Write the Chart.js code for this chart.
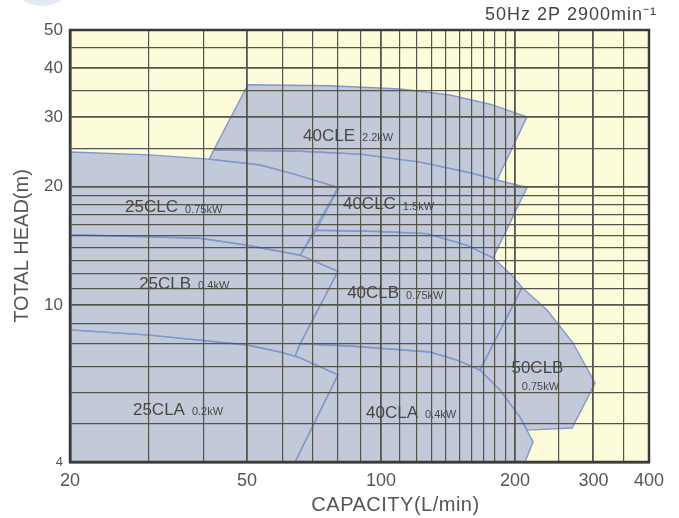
<!DOCTYPE html>
<html><head><meta charset="utf-8">
<script src="https://cdn.jsdelivr.net/npm/chart.js@4.4.1/dist/chart.umd.min.js"></script>
<style>html,body{margin:0;padding:0;background:#fff}#wrap{width:679px;height:518px}</style>
</head><body><div id="wrap"><canvas id="c" width="679" height="518"></canvas></div>
<script>
// Axis ticks (grid) and labelled ticks
const xTicks = [20,30,40,50,60,70,80,90,100,110,120,130,140,150,160,170,180,190,200,250,300,350,400];
const xLabels = [20,50,100,200,300,400];
const yTicks = [4,5,6,7,8,9,10,11,12,13,14,15,16,17,18,19,20,25,30,35,40,45,50];
const yLabels = [4,10,20,30,40,50];

// Selection ranges: [capacity L/min, total head m]
const r40CLE = [[50.2,36.3],[76.8,36.1],[110.3,35.4],[142.9,34.2],[175.7,32.4],[212.8,30.1],[182.2,20.8],[158.4,21.7],[122.3,23.1],[89.7,24.2],[65.8,24.6],[42.1,24.8]];
const r40CLC = [[42.1,24.8],[65.8,24.6],[89.7,24.2],[122.3,23.1],[158.4,21.7],[182.2,20.8],[212.8,19.9],[178.5,13.2],[156.0,14.2],[126.9,15.2],[99.5,15.4],[71.4,15.5],[80.4,19.9],[64.1,21.5],[53.5,22.7],[41.1,23.5]];
const r25CLC = [[20,24.5],[30.2,24.1],[41.1,23.5],[53.5,22.7],[64.1,21.5],[80.0,19.9],[65.8,13.4],[50,14.2],[39.2,14.8],[20,15.1]];
const r25CLB = [[20,15.1],[39.2,14.8],[50,14.2],[65.8,13.4],[80.0,12.2],[65.8,7.98],[64.1,7.43],[59.3,7.61],[50,7.93],[30.2,8.40],[20,8.66]];
const r25CLA = [[20,8.66],[30.2,8.40],[50,7.93],[59.3,7.61],[65.8,7.35],[80.0,6.66],[64.1,4],[20,4]];
const r40CLB = [[71.4,15.5],[99.5,15.4],[126.9,15.2],[156.0,14.2],[178.5,13.2],[196.9,11.9],[207.4,11.1],[166.9,6.85],[148.1,7.26],[128.8,7.61],[85.2,7.88],[65.8,7.98],[80.0,12.2],[65.8,13.4]];
const r50CLB = [[207.4,11.1],[236.0,9.73],[270.0,8.02],[302.6,6.35],[268.7,4.88],[212.8,4.82],[205.2,5.20],[185.1,6.09],[166.9,6.85]];
const r40CLA = [[65.8,7.98],[85.2,7.88],[128.8,7.61],[148.1,7.26],[166.9,6.85],[185.1,6.09],[205.2,5.20],[219.6,4.50],[210.6,4],[64.1,4],[80.0,6.66],[65.8,7.35],[64.1,7.43]];

// Model labels
const modelNames = ['40CLE','40CLC','40CLB','25CLC','25CLB','25CLA','40CLA','50CLB'];
const modelPower = ['2.2kW','1.5kW','0.75kW','0.75kW','0.4kW','0.2kW','0.4kW','0.75kW'];
const labelQ = [66.8,82.1,83.9,26.6,28.6,27.7,92.5,224.6];
const labelH = [26.9,18.0,10.7,17.7,11.3,5.42,5.33,6.93];

const FONT = "'Liberation Sans', Arial, Helvetica, sans-serif";
const regions = [r40CLE, r40CLC, r25CLC, r25CLB, r25CLA, r40CLB, r50CLB, r40CLA];
const regionNames = ['40CLE','40CLC','25CLC','25CLB','25CLA','40CLB','50CLB','40CLA'];

const datasets = regions.map((pts, i) => ({
  label: regionNames[i],
  data: pts.concat([pts[0]]).map(p => ({x: p[0], y: p[1]})),
  showLine: true,
  fill: 'shape',
  backgroundColor: '#c2cad9',
  borderColor: '#8298cd',
  borderWidth: 1.4,
  pointRadius: 0,
  tension: 0
}));

const decoPlugin = {
  id: 'deco',
  beforeDraw(chart) {
    const {ctx, chartArea: a} = chart;
    ctx.save();
    ctx.fillStyle = '#fcfcda';
    ctx.fillRect(a.left, a.top, a.width, a.height);
    ctx.fillStyle = '#e4eaf5';
    ctx.beginPath();
    ctx.ellipse(42, -22, 32, 28, 0, 0, Math.PI * 2);
    ctx.fill();
    ctx.restore();
  },
  afterDraw(chart) {
    const {ctx, chartArea: a, scales} = chart;
    ctx.save();
    ctx.strokeStyle = '#3a3a3a';
    ctx.lineWidth = 2.5;
    ctx.strokeRect(a.left, a.top, a.width, a.height);
    // model labels
    ctx.fillStyle = '#474747';
    ctx.textBaseline = 'middle';
    for (let i = 0; i < modelNames.length; i++) {
      const px = scales.x.getPixelForValue(labelQ[i]);
      const py = scales.y.getPixelForValue(labelH[i]);
      if (modelNames[i] === '50CLB') {
        ctx.textAlign = 'center';
        ctx.font = '17px ' + FONT;
        ctx.fillText(modelNames[i], px, py);
        ctx.font = '11px ' + FONT;
        ctx.fillText(modelPower[i], px + 3, py + 19);
      } else {
        ctx.textAlign = 'left';
        ctx.font = '17px ' + FONT;
        const w = ctx.measureText(modelNames[i]).width;
        ctx.fillText(modelNames[i], px, py);
        ctx.font = '11px ' + FONT;
        ctx.fillText(modelPower[i], px + w + 7, py + 2);
      }
    }
    // x title
    ctx.fillStyle = '#555';
    ctx.font = '20px ' + FONT;
    ctx.letterSpacing = '0.5px';
    ctx.textAlign = 'center';
    ctx.fillText('CAPACITY(L/min)', (a.left + a.right) / 2 + 36, a.bottom + 43);
    // condition text
    ctx.font = '18px ' + FONT;
    ctx.letterSpacing = '1px';
    ctx.textAlign = 'right';
    ctx.fillStyle = '#444';
    ctx.fillText('50Hz 2P 2900min\u207B\u00B9', a.right + 8, a.top - 15);
    ctx.letterSpacing = '0px';
    ctx.restore();
  }
};

new Chart(document.getElementById('c'), {
  type: 'scatter',
  data: {datasets},
  plugins: [decoPlugin],
  options: {
    responsive: false,
    animation: false,
    layout: {padding: {top: 30, right: 30, left: 0, bottom: 0}},
    plugins: {
      legend: {display: false},
      tooltip: {enabled: false},
      filler: {drawTime: 'beforeDatasetsDraw'}
    },
    scales: {
      x: {
        type: 'logarithmic', min: 20, max: 400,
        afterBuildTicks: s => { s.ticks = xTicks.map(v => ({value: v})); },
        afterFit: s => { s.height = 56; },
        ticks: {autoSkip: false, maxRotation: 0, minRotation: 0, padding: 8, color: '#555',
          font: {family: FONT, size: 18},
          callback: v => xLabels.includes(v) ? String(v) : ''},
        grid: {z: 1, color: '#55554d', drawTicks: false,
          lineWidth: c => (c.tick && xLabels.includes(c.tick.value)) ? 1.8 : 1.2},
        border: {display: true, color: '#3a3a3a', width: 2.5, z: 2}
      },
      y: {
        type: 'logarithmic', min: 4, max: 50,
        afterBuildTicks: s => { s.ticks = yTicks.map(v => ({value: v})); },
        afterFit: s => { s.width = 70; },
        ticks: {autoSkip: false, padding: 7, color: '#555',
          font: c => ({family: FONT, size: (c.tick && c.tick.value === 4) ? 13 : 17}),
          callback: v => yLabels.includes(v) ? String(v) : ''},
        grid: {z: 1, color: '#55554d', drawTicks: false,
          lineWidth: c => (c.tick && yLabels.includes(c.tick.value)) ? 1.8 : 1.2},
        border: {display: true, color: '#3a3a3a', width: 2.5, z: 2},
        title: {display: true, text: 'TOTAL HEAD(m)', color: '#555',
          font: {family: FONT, size: 20}, padding: {top: 10, bottom: 0}}
      }
    }
  }
});
</script></body></html>
